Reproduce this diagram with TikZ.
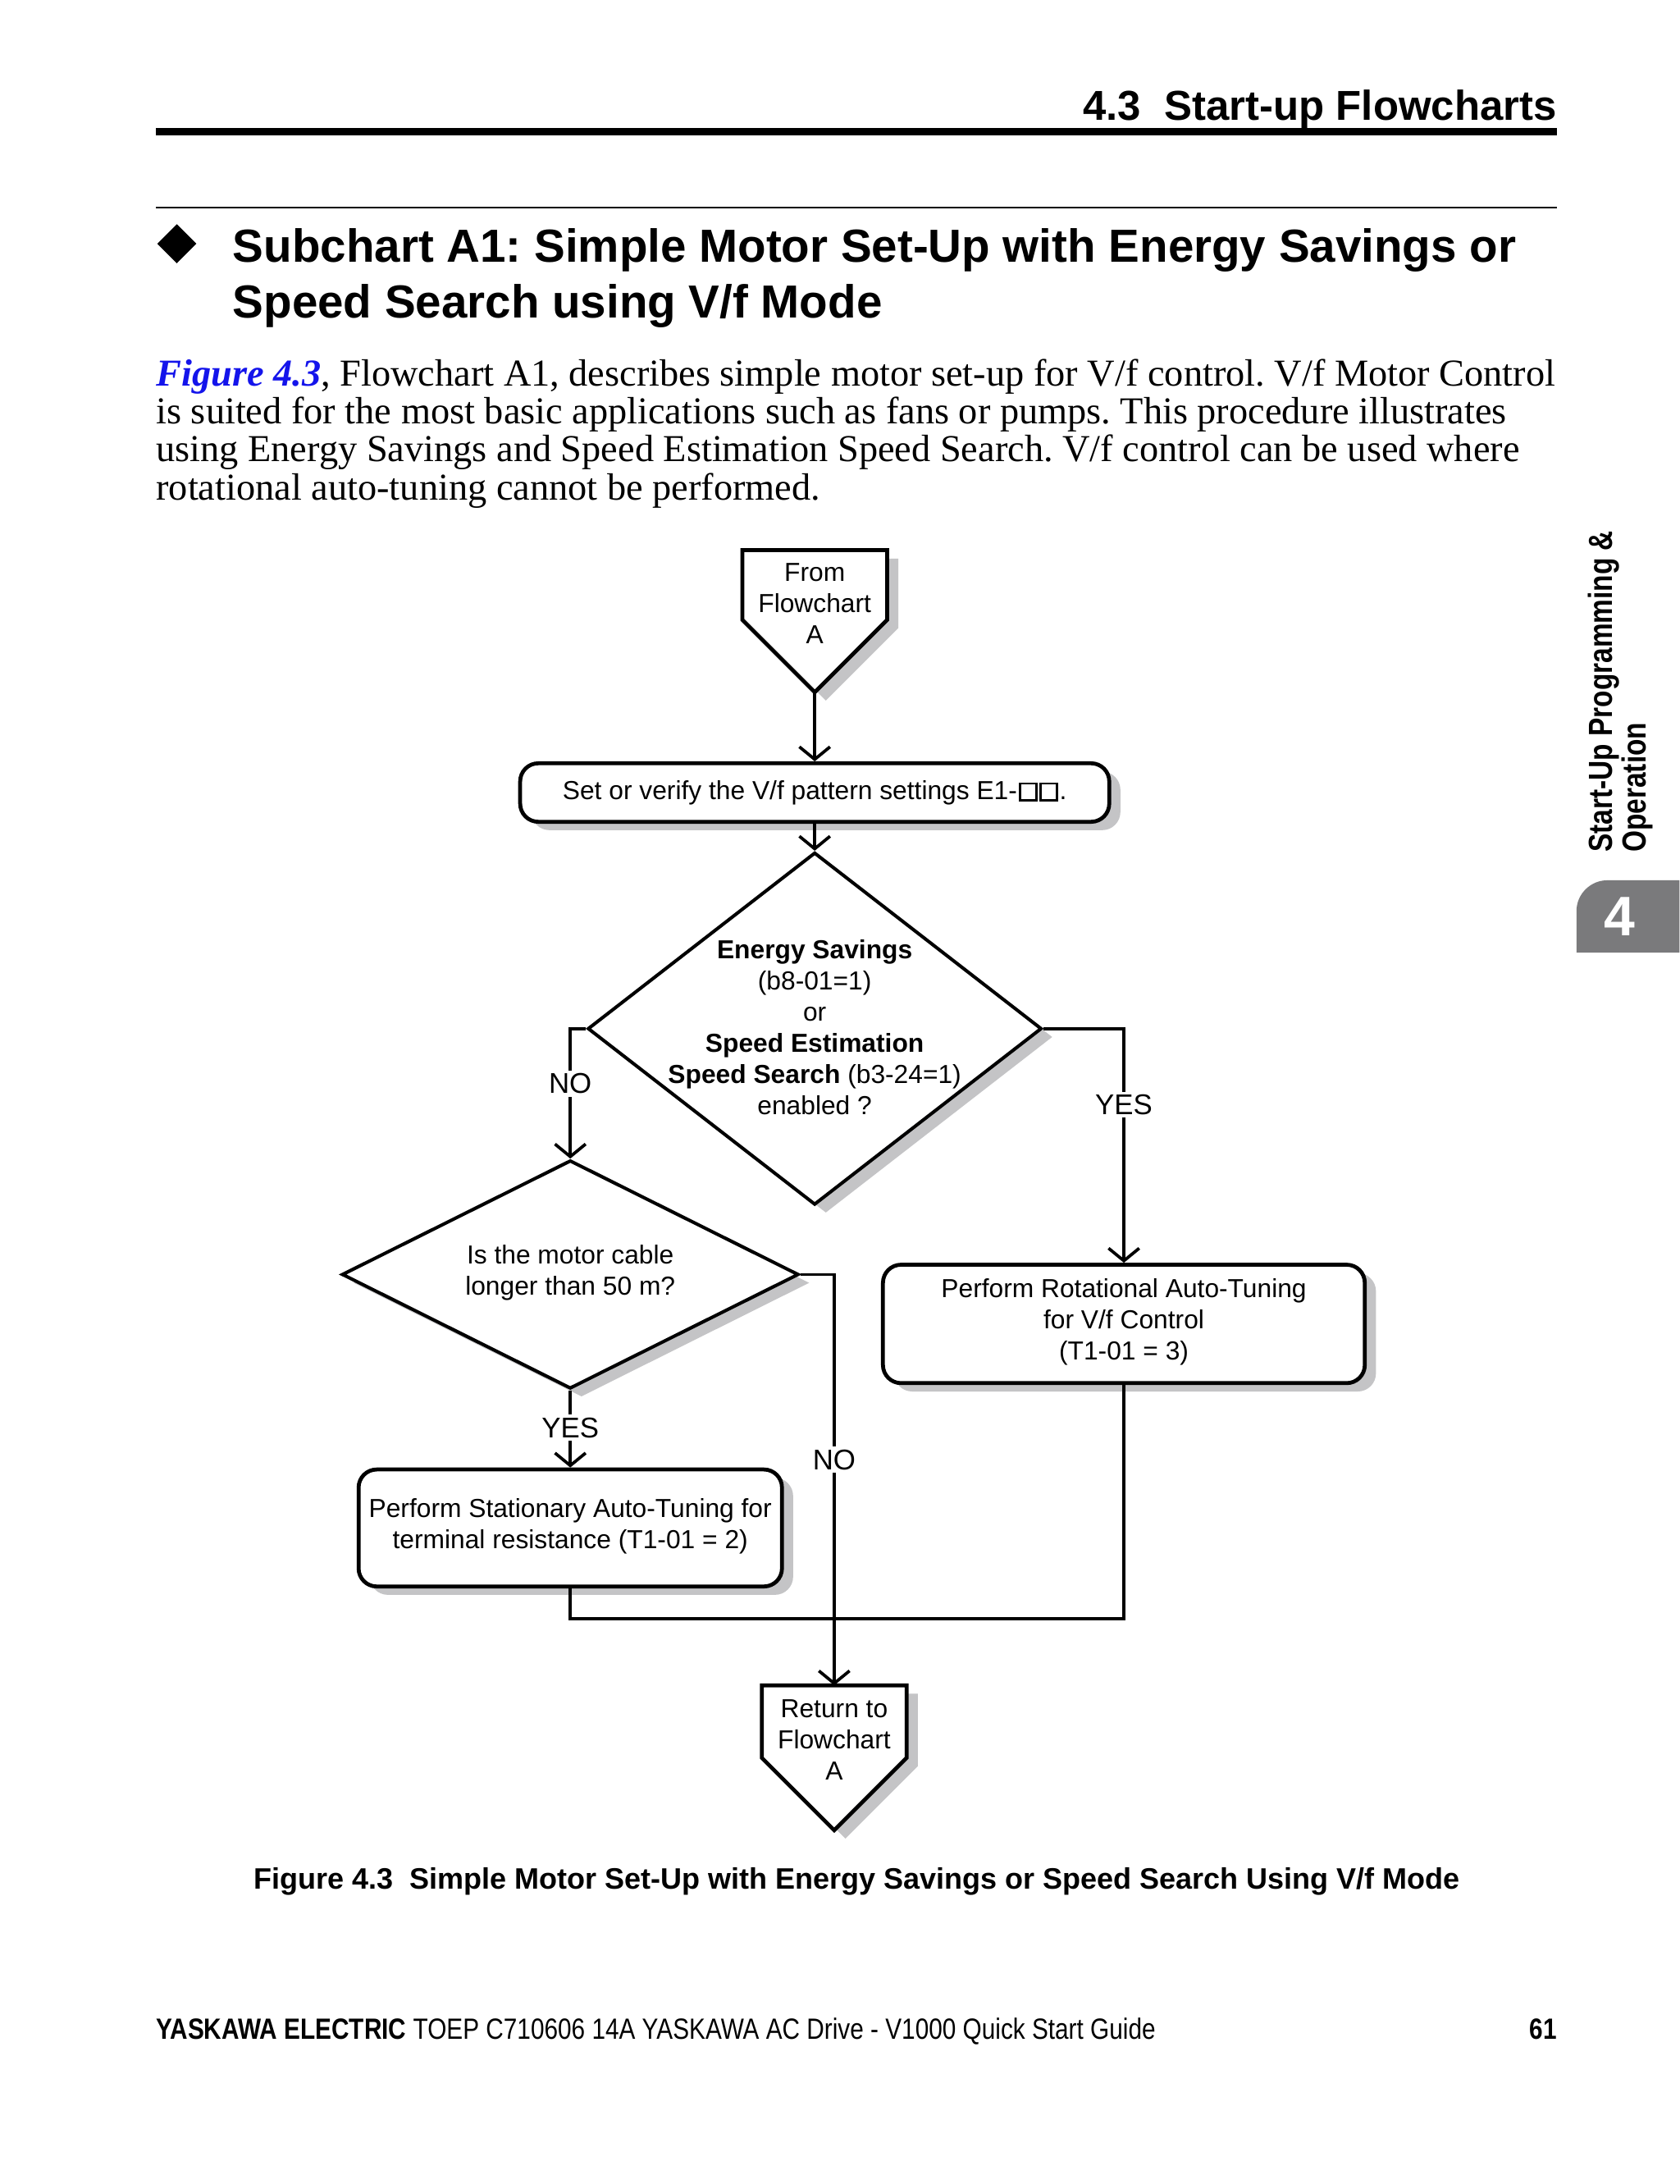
\documentclass[tikz,border=0pt]{standalone}
\usepackage{fontspec}
\setmainfont{Liberation Serif}
\newfontfamily\hv{Liberation Sans}
\newfontfamily\hvn[FakeStretch=0.835]{Liberation Sans}
\newfontfamily\hvs[FakeStretch=0.82]{Liberation Sans}
\usetikzlibrary{shapes.geometric,arrows.meta,shadows}
\definecolor{shgray}{RGB}{196,196,198}
\definecolor{tabgray}{RGB}{122,122,124}
\definecolor{figblue}{RGB}{20,20,235}
\newcommand\sqbox{\kern1.2pt{\setlength\fboxrule{1.5pt}\setlength\fboxsep{0pt}\fbox{\rule{0pt}{10.5pt}\hspace{10.5pt}}}}
\frenchspacing
\tikzset{
  con/.style={line width=2.2pt},
  arr/.style={-{Straight Barb[length=9pt,width=22pt]}},
  shd/.style={drop shadow={shadow xshift=8pt,shadow yshift=-6pt,fill=shgray,draw=none,opacity=1}},
  txt/.style={font=\hv\fontsize{18.7}{22.4}\selectfont, align=center, inner sep=0pt},
  rbox/.style={draw, line width=2.8pt, rounded corners=13pt, fill=white, shd, inner sep=0pt},
  dia/.style={diamond, draw, line width=2.4pt, fill=white, shd, inner sep=0pt},
  pent/.style={draw, line width=2.8pt, fill=white},
  lbl/.style={font=\hv\fontsize{20.5}{24}\selectfont, fill=white, inner sep=2pt},
  para/.style={anchor=base west, inner sep=0pt, font=\fontsize{27.3}{27.3}\selectfont},
}
\begin{document}
\begin{tikzpicture}[x=1pt,y=-1pt]
\useasboundingbox (0,0) rectangle (1206,1568);
\fill[white] (0,0) rectangle (1206,1568);

% header
\node[anchor=base east, inner sep=0pt, font=\hv\bfseries\fontsize{30}{36}\selectfont] (hdr) at (1118,86) {4.3\hspace{0.556em}Start-up Flowcharts};
\fill (112,92) rectangle (1118,97);
\draw[line width=1.5pt] (112,149) -- (1118,149);

% title
\fill (127,161) -- (141,175) -- (127,189) -- (113,175) -- cycle;
\node[anchor=base west, inner sep=0pt, font=\hv\bfseries\fontsize{33.3}{40}\selectfont] (t1) at (167,188) {Subchart A1: Simple Motor Set-Up with Energy Savings or};
\node[anchor=base west, inner sep=0pt, font=\hv\bfseries\fontsize{33.3}{40}\selectfont] (t2) at (167,228) {Speed Search using V/f Mode};

% paragraph
\node[para] (p1) at (112,277) {{\color{figblue}\bfseries\itshape Figure 4.3}, Flowchart A1, describes simple motor set-up for V/f control. V/f Motor Control};
\node[para] (p2) at (112,304.3) {is suited for the most basic applications such as fans or pumps. This procedure illustrates};
\node[para] (p3) at (112,331.6) {using Energy Savings and Speed Estimation Speed Search. V/f control can be used where};
\node[para] (p4) at (112,358.9) {rotational auto-tuning cannot be performed.};

% side tab
\node[rotate=90, anchor=north west, align=left, inner sep=0pt, font=\hvs\bfseries\fontsize{24}{24}\selectfont] (side) at (1140,612) {Start-Up Programming \&\\Operation};
\fill[tabgray] (1132,684) -- (1132,654) .. controls (1132,642) and (1142,632) .. (1154,632) -- (1206,632) -- (1206,684) -- cycle;
\node[font=\hv\bfseries\fontsize{40}{40}\selectfont, text=white, inner sep=0pt] (tabnum) at (1163,658) {4};

% from pentagon
\fill[shgray, shift={(8,6)}] (533,395) -- (637,395) -- (637,445) -- (585,497) -- (533,445) -- cycle;
\draw[pent] (533,395) -- (637,395) -- (637,445) -- (585,497) -- (533,445) -- cycle;
\coordinate (fromtip) at (585,497);
\node[txt] (fromt) at (585,433.5) {From\\Flowchart\\A};

% boxes
\node[rbox, minimum width=423pt, minimum height=42pt] (setbox) at (585,569) {};
\node[txt] (sett) at (585,569) {Set or verify the V/f pattern settings E1-\sqbox\sqbox\kern1pt.};

\node[dia, minimum width=326pt, minimum height=253pt] (d1) at (585,738.5) {};
\node[txt] (d1t) at (585,737.5) {{\bfseries Energy Savings}\\(b8-01=1)\\or\\{\bfseries Speed Estimation}\\{\bfseries Speed Search} (b3-24=1)\\enabled ?};

\node[dia, minimum width=328pt, minimum height=164pt] (d2) at (409.5,915) {};
\node[txt] (d2t) at (409.5,914) {Is the motor cable\\longer than 50 m?};

\node[rbox, minimum width=346pt, minimum height=85pt] (rotbox) at (807,950.5) {};
\node[txt] (rott) at (807,949) {Perform Rotational Auto-Tuning\\for V/f Control\\(T1-01 = 3)};

\node[rbox, minimum width=304pt, minimum height=84pt] (statbox) at (409.5,1097) {};
\node[txt] (statt) at (409.5,1095.5) {Perform Stationary Auto-Tuning for\\terminal resistance (T1-01 = 2)};

% return pentagon
\fill[shgray, shift={(8,6)}] (547,1210) -- (651,1210) -- (651,1262) -- (599,1314) -- (547,1262) -- cycle;
\draw[pent] (547,1210) -- (651,1210) -- (651,1262) -- (599,1314) -- (547,1262) -- cycle;
\coordinate (rettop) at (599,1210);
\node[txt] (rett) at (599,1249) {Return to\\Flowchart\\A};

% connectors
\coordinate (join) at (599,1162);
\draw[con, arr] (fromtip) -- (setbox.north);
\draw[con, arr] (setbox.south) -- (d1.north);
\draw[con, arr] (d1.west) -| (d2.north);
\draw[con, arr] (d1.east) -| (rotbox.north);
\draw[con, arr] (d2.east) -| (rettop);
\draw[con, arr] (d2.south) -- (statbox.north);
\draw[con] (statbox.south) |- (join) -| (rotbox.south);

% labels
\node[lbl] (no1) at (409.5,778) {NO};
\node[lbl] (yes1) at (807,793) {YES};
\node[lbl] (no2) at (599,1048) {NO};
\node[lbl] (yes2) at (409.5,1025) {YES};

% caption and footer
\node[anchor=base, inner sep=0pt, font=\hv\bfseries\fontsize{21.2}{25}\selectfont] (cap) at (615.5,1356) {Figure 4.3\hspace{0.556em}Simple Motor Set-Up with Energy Savings or Speed Search Using V/f Mode};
\node[anchor=base west, inner sep=0pt, font=\hvn\fontsize{21}{25}\selectfont] (foot) at (112,1464) {{\bfseries YASKAWA ELECTRIC} TOEP C710606 14A YASKAWA AC Drive - V1000 Quick Start Guide};
\node[anchor=base east, inner sep=0pt, font=\hvn\bfseries\fontsize{21}{25}\selectfont] (pg) at (1118,1464) {61};
\end{tikzpicture}
\end{document}
